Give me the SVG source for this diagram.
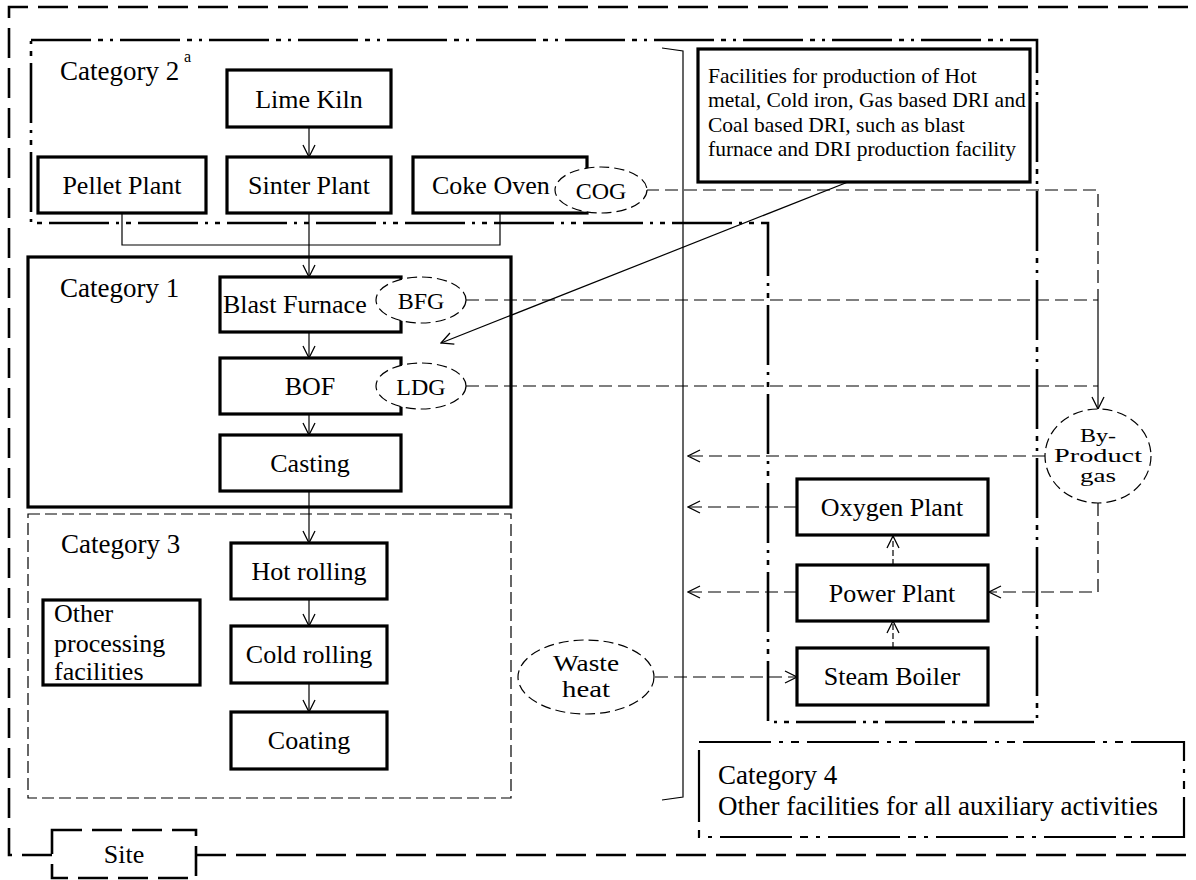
<svg xmlns="http://www.w3.org/2000/svg" width="1196" height="880" viewBox="0 0 1196 880">
<style>
text{font-family:"Liberation Serif","Times New Roman",serif;fill:#000}
.lbl{font-size:26px;text-anchor:middle}
.cat{font-size:27px}
.box{fill:#fff;stroke:#000;stroke-width:3.2}
.ell{fill:#fff;stroke:#000;stroke-width:1.2;stroke-dasharray:10 5}
.ln{fill:none;stroke:#000;stroke-width:1.2}
.dl{fill:none;stroke:#000;stroke-width:1.2;stroke-dasharray:13 6}
.site{fill:none;stroke:#000;stroke-width:2.6;stroke-dasharray:30 10}
.dd2{fill:none;stroke:#000;stroke-width:2.6;stroke-dasharray:60 7 5 7 3 7}
.dd4{fill:#fff;stroke:#000;stroke-width:2.2;stroke-dasharray:72 8 4 8 8 8}
</style>
<defs>
<marker id="arr" viewBox="0 0 14 14" refX="13" refY="7" markerWidth="14" markerHeight="14" markerUnits="userSpaceOnUse" orient="auto">
<path d="M1,1 L13,7 L1,13" fill="none" stroke="#000" stroke-width="1.3" stroke-dasharray="none"/>
</marker>
</defs>
<rect width="1196" height="880" fill="#fff"/>

<g id="site-boundary">
<path class="site" d="M52,855 H9 V7 H1196"/>
<path class="site" d="M196,855 H1196"/>
<rect id="site" x="52" y="830" width="144" height="48" class="site"/>
<text x="124" y="863" class="lbl">Site</text>
</g>

<g id="category2">
<path class="dd2" d="M31,40 H1037 V722 H768 V223 H31 Z"/>
<text x="60" y="80" class="cat">Category 2</text>
<text x="184" y="62" style="font-size:16px">a</text>
</g>

<g id="category1">
<rect x="28" y="257" width="483" height="250" fill="none" stroke="#000" stroke-width="3.2"/>
<text x="60" y="297" class="cat">Category 1</text>
</g>

<g id="category3">
<rect x="28" y="514" width="483" height="284" fill="none" stroke="#000" stroke-width="1.2" stroke-dasharray="12 5"/>
<text x="61" y="553" class="cat">Category 3</text>
</g>

<g id="category4">
<rect x="699" y="742" width="485" height="95" class="dd4"/>
<text x="718" y="784" class="cat">Category 4</text>
<text x="718" y="815" class="cat">Other facilities for all auxiliary activities</text>
</g>

<g id="connectors">
<line class="ln" x1="309" y1="127" x2="309" y2="157" marker-end="url(#arr)"/>
<polyline class="ln" points="122,213 122,245 500,245 500,213"/>
<line class="ln" x1="309" y1="213" x2="309" y2="277" marker-end="url(#arr)"/>
<line class="ln" x1="309" y1="332" x2="309" y2="358" marker-end="url(#arr)"/>
<line class="ln" x1="309" y1="414" x2="309" y2="435" marker-end="url(#arr)"/>
<line class="ln" x1="309" y1="491" x2="309" y2="543" marker-end="url(#arr)"/>
<line class="ln" x1="309" y1="599" x2="309" y2="626" marker-end="url(#arr)"/>
<line class="ln" x1="309" y1="683" x2="309" y2="712" marker-end="url(#arr)"/>
<polyline class="dl" points="646,190 1098,190 1098,300"/>
<line class="dl" x1="466" y1="300" x2="1098" y2="300"/>
<line class="dl" x1="466" y1="386" x2="1098" y2="386"/>
<line class="ln" x1="1098" y1="300" x2="1098" y2="409" marker-end="url(#arr)"/>
<line class="dl" x1="1045" y1="456" x2="688" y2="456" marker-end="url(#arr)"/>
<polyline class="dl" points="1098,503 1098,592 989,592" marker-end="url(#arr)"/>
<line class="dl" x1="797" y1="507" x2="688" y2="507" marker-end="url(#arr)"/>
<line class="dl" x1="797" y1="592" x2="688" y2="592" marker-end="url(#arr)"/>
<line class="ln" x1="893" y1="648" x2="893" y2="621" stroke-dasharray="6 3" marker-end="url(#arr)"/>
<line class="ln" x1="893" y1="565" x2="893" y2="536" stroke-dasharray="6 3" marker-end="url(#arr)"/>
<line class="dl" x1="655" y1="677" x2="797" y2="677" marker-end="url(#arr)"/>
<line class="ln" x1="848" y1="182" x2="441" y2="343" marker-end="url(#arr)"/>
<polyline class="ln" points="662,48 683,51 683,797 662,800"/>
</g>

<g id="lime-kiln">
<rect class="box" x="227" y="70" width="164" height="57"/>
<text x="309" y="108" class="lbl">Lime Kiln</text>
</g>
<g id="pellet-plant">
<rect class="box" x="38" y="157" width="168" height="56"/>
<text x="122" y="194" class="lbl">Pellet Plant</text>
</g>
<g id="sinter-plant">
<rect class="box" x="227" y="157" width="164" height="56"/>
<text x="309" y="194" class="lbl">Sinter Plant</text>
</g>
<g id="coke-oven">
<rect class="box" x="413" y="157" width="174" height="56"/>
<text x="432" y="194" style="font-size:26px">Coke Oven</text>
</g>
<g id="cog">
<ellipse class="ell" cx="601" cy="190" rx="46" ry="23"/>
<text x="601" y="199" class="lbl" style="font-size:24px">COG</text>
</g>

<g id="facilities-box">
<rect class="box" x="698" y="49" width="332" height="133" stroke-width="3.5"/>
<text x="708" y="83" style="font-size:21.5px">Facilities for production of Hot</text>
<text x="708" y="107" style="font-size:21.5px">metal, Cold iron, Gas based DRI and</text>
<text x="708" y="132" style="font-size:21.5px">Coal based DRI, such as blast</text>
<text x="708" y="156" style="font-size:21.5px">furnace and DRI production facility</text>
</g>

<g id="blast-furnace">
<rect class="box" x="220" y="277" width="181" height="55"/>
<text x="223" y="313" style="font-size:26px">Blast Furnace</text>
</g>
<g id="bfg">
<ellipse class="ell" cx="421" cy="300" rx="45" ry="23"/>
<text x="421" y="309" class="lbl" style="font-size:24px">BFG</text>
</g>
<g id="bof">
<rect class="box" x="220" y="358" width="181" height="56"/>
<text x="310" y="395" class="lbl">BOF</text>
</g>
<g id="ldg">
<ellipse class="ell" cx="421" cy="386" rx="45" ry="23"/>
<text x="421" y="395" class="lbl" style="font-size:24px">LDG</text>
</g>
<g id="casting">
<rect class="box" x="220" y="435" width="181" height="56"/>
<text x="310" y="472" class="lbl">Casting</text>
</g>

<g id="hot-rolling">
<rect class="box" x="231" y="543" width="156" height="56"/>
<text x="309" y="580" class="lbl">Hot rolling</text>
</g>
<g id="cold-rolling">
<rect class="box" x="231" y="626" width="156" height="57"/>
<text x="309" y="663" class="lbl">Cold rolling</text>
</g>
<g id="coating">
<rect class="box" x="231" y="712" width="156" height="57"/>
<text x="309" y="749" class="lbl">Coating</text>
</g>
<g id="other-processing">
<rect class="box" x="43" y="600" width="157" height="85"/>
<text x="54" y="622" style="font-size:26px">Other</text>
<text x="54" y="652" style="font-size:26px">processing</text>
<text x="54" y="680" style="font-size:26px">facilities</text>
</g>

<g id="by-product-gas">
<ellipse class="ell" cx="1098" cy="456" rx="53" ry="47"/>
<text x="1098" y="442" class="lbl" style="font-size:18px" textLength="36" lengthAdjust="spacingAndGlyphs">By-</text>
<text x="1098" y="462" class="lbl" style="font-size:18px" textLength="88" lengthAdjust="spacingAndGlyphs">Product</text>
<text x="1098" y="482" class="lbl" style="font-size:18px" textLength="36" lengthAdjust="spacingAndGlyphs">gas</text>
</g>

<g id="oxygen-plant">
<rect class="box" x="797" y="479" width="191" height="56"/>
<text x="892" y="516" class="lbl">Oxygen Plant</text>
</g>
<g id="power-plant">
<rect class="box" x="797" y="565" width="191" height="56"/>
<text x="892" y="602" class="lbl">Power Plant</text>
</g>
<g id="steam-boiler">
<rect class="box" x="797" y="648" width="191" height="57"/>
<text x="892" y="685" class="lbl">Steam Boiler</text>
</g>
<g id="waste-heat">
<ellipse class="ell" cx="586" cy="677" rx="68" ry="37"/>
<text x="586" y="671" class="lbl" style="font-size:23px" textLength="66" lengthAdjust="spacingAndGlyphs">Waste</text>
<text x="586" y="697" class="lbl" style="font-size:23px" textLength="48" lengthAdjust="spacingAndGlyphs">heat</text>
</g>
</svg>
